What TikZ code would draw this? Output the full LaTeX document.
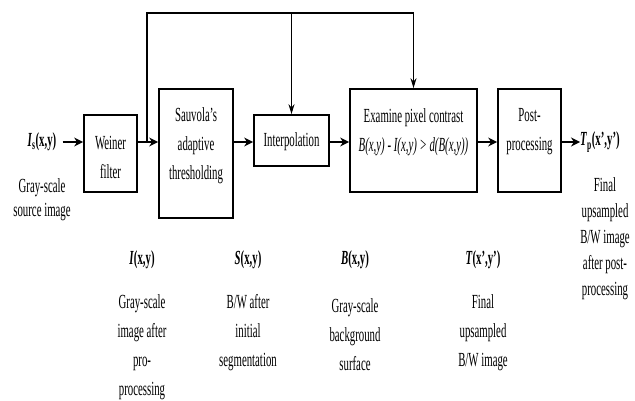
\documentclass[tikz,border=0pt]{standalone}
\usepackage{fontspec}
\setmainfont[FakeStretch=0.54]{Liberation Serif}
\usetikzlibrary{arrows.meta}

\begin{document}
\begin{tikzpicture}[x=1pt,y=-1pt,
    block/.style={draw,line width=1.7pt,inner sep=0pt},
    txt/.style={align=center,inner sep=0pt,font=\fontsize{20}{29}\selectfont},
    flow/.style={-{Stealth[length=9pt,width=9pt]},line width=2pt},
    feed/.style={-{Stealth[length=10pt,width=6pt]},line width=1.1pt}]
\useasboundingbox (0,0) rectangle (635,400);

    % processing blocks
    \node[block,minimum width=53pt,minimum height=77pt] (weiner) at (110.5,153.5) {};
    \node[block,minimum width=74pt,minimum height=129pt] (sauvola) at (196,153.5) {};
    \node[block,minimum width=75pt,minimum height=51pt] (interp) at (291.5,140.5) {};
    \node[block,minimum width=127pt,minimum height=103pt] (examine) at (413.5,140.5) {};
    \node[block,minimum width=63pt,minimum height=103pt] (post) at (529.5,140.5) {};

    \node[txt] (weinertxt) at (110.5,157) {Weiner\\filter};
    \node[txt] (sauvolatxt) at (196,146) {Sauvola's\\adaptive\\thresholding};
    \node[txt] (interptxt) at (291.5,142) {Interpolation};
    \node[txt] (examinetxt) at (413.5,132) {Examine pixel contrast\\\textit{B(x,y) - I(x,y) \textgreater{} d(B(x,y))}};
    \node[txt] (posttxt) at (529.5,132) {Post-\\processing};

    % input and output
    \node[txt] (in) at (42,142) {\textbf{\textit{I}\textsubscript{s}(x,y)}};
    \node[txt,font=\fontsize{20}{24}\selectfont] (intxt) at (42,200) {Gray-scale\\source image};
    \node[txt] (out) at (600,142) {\textbf{\textit{T}\textsubscript{p}(x',y')}};
    \node[txt,font=\fontsize{20}{26}\selectfont] (outtxt) at (605,239) {Final\\upsampled\\B/W image\\after post-\\processing};

    % intermediate signals
    \node[txt] (isig) at (142,260) {\textbf{\textit{I}(x,y)}};
    \node[txt] (isigtxt) at (142,347) {Gray-scale\\image after\\pro-\\processing};
    \node[txt] (ssig) at (248,260) {\textbf{\textit{S}(x,y)}};
    \node[txt] (ssigtxt) at (248,333) {B/W after\\initial\\segmentation};
    \node[txt] (bsig) at (355,260) {\textbf{\textit{B}(x,y)}};
    \node[txt] (bsigtxt) at (355,335) {Gray-scale\\background\\surface};
    \node[txt] (tsig) at (483,260) {\textbf{\textit{T}(x',y')}};
    \node[txt] (tsigtxt) at (483,333) {Final\\upsampled\\B/W image};

    \draw[flow] (in.east)++(6,0) -- (weiner.west |- in);
    \draw[flow] (weiner.east |- in) -- (sauvola.west |- in);
    \draw[flow] (sauvola.east |- in) -- (interp.west |- in);
    \draw[flow] (interp.east |- in) -- (examine.west |- in);
    \draw[flow] (examine.east |- in) -- (post.west |- in);
    \draw[flow] (post.east |- in) -- (out.west);

    % feedback of I(x,y)
    \coordinate (split) at (147,142);
    \coordinate (top) at (147,13);
    \draw[line width=2pt] (split) -- (top) -- (top -| examine);
    \draw[feed] (top -| interp) -- (interp.north);
    \draw[feed] (top -| examine) -- (examine.north);
\end{tikzpicture}
\end{document}
